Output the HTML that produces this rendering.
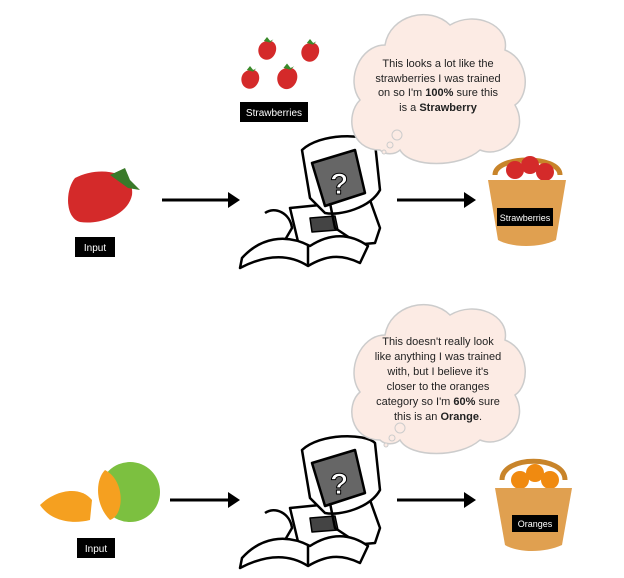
<!DOCTYPE html>
<html><head><style>
body{margin:0;background:#fff;width:624px;height:573px;overflow:hidden;font-family:"Liberation Sans",sans-serif}
</style></head><body>
<svg width="624" height="573" viewBox="0 0 624 573" xmlns="http://www.w3.org/2000/svg" font-family="Liberation Sans, sans-serif">
<defs>
<g id="berry"><path d="M0,-10 C10,-12 14,-2 10,6 C6,14 -2,16 -8,10 C-14,2 -10,-9 0,-10Z" fill="#d42a2a"/><path d="M-4,-10 L0,-15 L4,-10 L8,-12 L4,-8 Z" fill="#3a8a2a"/></g>
<g id="comp" stroke="#000" stroke-width="2.5" stroke-linejoin="round">
<!-- body / keyboard -->
<path d="M50,80 L130,72 L140,100 L135,115 L60,122 Z" fill="#fff"/>
<path d="M70,90 L95,88 L98,102 L72,104Z" fill="#444" stroke-width="1.5"/>
<!-- monitor -->
<path d="M62,22 C80,5 125,5 135,15 L140,62 C130,80 100,88 85,85 L70,70Z" fill="#fff"/>
<path d="M72,35 L115,22 L125,65 L85,78Z" fill="#666"/>
<text x="90" y="66" font-size="30" fill="#fff" stroke="#000" stroke-width="1" font-weight="bold">?</text>
<!-- arm -->
<path d="M90,75 L95,100 L110,110" fill="none"/>
<path d="M25,85 C35,78 50,85 52,100 L45,112" fill="none"/>
<!-- book -->
<path d="M2,130 C20,110 45,105 70,118 C90,105 110,105 128,118 L120,135 C100,125 85,128 68,138 C48,125 25,127 0,140Z" fill="#fff"/>
<path d="M68,118 L68,138" fill="none"/>
</g>
</defs>
<!-- top row -->
<g transform="translate(255,45)"><use href="#berry" transform="translate(12,4) scale(0.8)"/><use href="#berry" transform="translate(55,6) scale(0.8)"/><use href="#berry" transform="translate(-5,33) scale(0.8)"/><use href="#berry" transform="translate(32,32) scale(0.9)"/></g>
<rect x="240" y="102" width="68" height="20" fill="#000"/><text x="274" y="116" font-size="10" fill="#fff" text-anchor="middle">Strawberries</text>
<path d="M75,178 C100,165 135,172 132,195 C128,215 100,225 80,222 C65,218 65,190 75,178Z" fill="#d42a2a"/>
<path d="M110,175 L125,168 L130,180 L140,190 L128,188Z" fill="#3a7a2a"/>
<rect x="75" y="237" width="40" height="20" fill="#000"/><text x="95" y="251" font-size="10" fill="#fff" text-anchor="middle">Input</text>
<path d="M162,200 H232" stroke="#000" stroke-width="3"/><path d="M228,192 L240,200 L228,208Z" fill="#000"/>
<use href="#comp" transform="translate(240,128)"/>
<path d="M397,200 H468" stroke="#000" stroke-width="3"/><path d="M464,192 L476,200 L464,208Z" fill="#000"/>
<g><path d="M495,175 C495,155 560,155 560,175" fill="none" stroke="#c8842a" stroke-width="5"/>
<circle cx="515" cy="170" r="9" fill="#d42a2a"/><circle cx="530" cy="165" r="9" fill="#d42a2a"/><circle cx="545" cy="172" r="9" fill="#d42a2a"/>
<path d="M488,180 H566 L556,240 C540,248 512,248 498,240Z" fill="#e0a050"/>
<rect x="497" y="208" width="56" height="18" fill="#000"/><text x="525" y="221" font-size="9" fill="#fff" text-anchor="middle">Strawberries</text></g>
<!-- cloud 1 -->
<path d="M380,150 C350,150 345,115 360,100 C345,80 360,45 385,45 C390,15 430,5 450,25 C475,10 510,25 505,50 C530,60 530,95 515,105 C530,130 505,160 480,150 C460,168 410,168 400,150 C395,155 385,155 380,150Z" fill="#fcebe4" stroke="#ccc" stroke-width="1.5"/>
<circle cx="397" cy="135" r="5" fill="#fcebe4" stroke="#ccc"/><circle cx="390" cy="145" r="3" fill="#fcebe4" stroke="#ccc"/><circle cx="384" cy="152" r="2" fill="#fcebe4" stroke="#ccc"/>
<g font-size="11" fill="#222" text-anchor="middle"><text x="438" y="67">This looks a lot like the</text><text x="438" y="82">strawberries I was trained</text><text x="438" y="96">on so I'm <tspan font-weight="bold">100%</tspan> sure this</text><text x="438" y="111">is a <tspan font-weight="bold">Strawberry</tspan></text></g>
<!-- bottom row -->
<path d="M40,505 C55,490 80,485 92,500 L90,520 C70,525 50,520 40,505Z" fill="#f5a020"/>
<circle cx="130" cy="492" r="30" fill="#7cc040"/><path d="M105,470 C95,480 95,505 110,520 C125,515 125,480 105,470Z" fill="#f5a020"/>
<rect x="77" y="538" width="38" height="20" fill="#000"/><text x="96" y="552" font-size="10" fill="#fff" text-anchor="middle">Input</text>
<path d="M170,500 H232" stroke="#000" stroke-width="3"/><path d="M228,492 L240,500 L228,508Z" fill="#000"/>
<use href="#comp" transform="translate(240,428)"/>
<path d="M397,500 H468" stroke="#000" stroke-width="3"/><path d="M464,492 L476,500 L464,508Z" fill="#000"/>
<g><path d="M502,480 C502,455 565,455 565,480" fill="none" stroke="#c8842a" stroke-width="5"/>
<circle cx="520" cy="480" r="9" fill="#f08a10"/><circle cx="535" cy="473" r="9" fill="#f08a10"/><circle cx="550" cy="480" r="9" fill="#f08a10"/>
<path d="M495,488 H572 L562,545 C545,553 518,553 505,545Z" fill="#e0a050"/>
<rect x="512" y="515" width="46" height="17" fill="#000"/><text x="535" y="527" font-size="9" fill="#fff" text-anchor="middle">Oranges</text></g>
<!-- cloud 2 -->
<path d="M380,440 C350,440 345,405 360,392 C345,372 360,335 385,335 C390,305 430,295 450,315 C475,300 510,315 505,340 C530,350 530,385 515,395 C530,420 505,450 480,440 C460,458 410,458 400,440 C395,445 385,445 380,440Z" fill="#fcebe4" stroke="#ccc" stroke-width="1.5"/>
<circle cx="400" cy="428" r="5" fill="#fcebe4" stroke="#ccc"/><circle cx="392" cy="438" r="3" fill="#fcebe4" stroke="#ccc"/><circle cx="386" cy="445" r="2" fill="#fcebe4" stroke="#ccc"/>
<g font-size="11" fill="#222" text-anchor="middle"><text x="438" y="345">This doesn't really look</text><text x="438" y="360">like anything I was trained</text><text x="438" y="375">with, but I believe it's</text><text x="438" y="390">closer to the oranges</text><text x="438" y="405">category so I'm <tspan font-weight="bold">60%</tspan> sure</text><text x="438" y="420">this is an <tspan font-weight="bold">Orange</tspan>.</text></g>
</svg>
</body></html>
